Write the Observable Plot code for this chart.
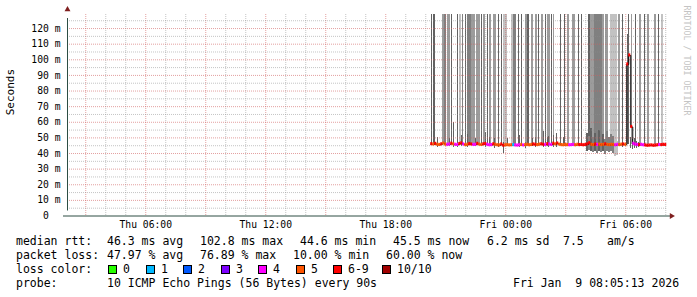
<!DOCTYPE html>
<html><head><meta charset="utf-8">
<script src="https://cdn.jsdelivr.net/npm/d3@7"></script>
<script src="https://cdn.jsdelivr.net/npm/@observablehq/plot@0.6"></script>
<style>
html,body{margin:0;padding:0;background:#fff;}
#wrap{position:relative;width:697px;height:297px;overflow:hidden;font-family:"DejaVu Sans Mono",monospace;background:#fff;}
#wrap svg{position:absolute;left:0;top:0;}
.leg{position:absolute;font-size:11.5px;line-height:14px;white-space:pre;color:#000;}
.box{position:absolute;width:7px;height:7px;border:1px solid #000;}
</style></head><body><div id="wrap"></div>
<script>
// ---- time frame ----
const startTime = "2026-01-08T02:05:13Z";
const endTime = "2026-01-09T08:05:13Z";
const dataStart = "2026-01-08T20:15:00Z";
const sampleMinutes = 6;
const yMax = 129;

// ---- median rtt (ms) every 6 minutes from dataStart ----
const medianMs = [
  46.0,45.8,46.2,45.6,45.5,45.9,46.4,45.7,45.6,45.8,
  46.3,45.9,45.6,45.5,46.1,46.5,45.8,45.4,45.6,46.0,
  45.8,45.5,45.6,46.2,45.7,45.5,45.9,46.1,45.6,45.3,
  45.4,45.9,45.6,45.3,45.2,45.8,45.0,45.3,45.4,45.2,
  45.3,45.4,45.2,45.1,45.3,45.5,45.2,45.4,45.6,45.3,
  45.5,45.8,45.6,45.4,45.7,45.9,45.6,45.5,46.0,45.8,
  45.5,46.3,45.9,46.4,45.7,45.4,45.3,45.5,45.4,45.3,
  45.4,45.5,45.3,45.6,45.4,45.5,45.3,45.5,45.9,46.6,
  45.6,45.4,45.8,45.5,45.7,45.4,45.6,45.9,45.5,45.4,
  45.6,45.5,45.3,45.6,45.4,45.7,45.8,45.6,97.0,102.8,
  57.0,46.2,45.7,45.5,45.4,45.6,45.3,45.2,45.0,45.1,
  45.2,45.0,45.1,45.3,45.5,45.4,45.6,45.5
];
// ---- lost pings out of 10 for each sample ----
const lossCount = [
  6,5,6,5,5,6,5,5,4,4,
  6,5,4,4,6,6,4,5,5,6,
  6,4,4,6,5,5,6,6,4,4,
  4,6,5,5,5,6,6,5,5,5,
  5,1,4,4,4,5,4,5,5,5,
  5,6,6,5,5,6,6,4,6,4,
  4,6,5,6,5,5,5,5,5,4,
  4,4,5,5,6,6,6,6,6,6,
  5,5,6,4,5,5,5,6,5,5,
  5,5,4,4,5,5,6,5,6,6,
  6,4,4,4,6,4,4,6,6,6,
  6,6,6,6,4,6,6,6
];

// ---- smoke reaching the top (minutes after dataStart, duration, density 1..4) ----
const smokeStartMin = [3,9,36,42,51,63,81,87,96,105,111,123,138,153,159,171,177,189,204,213,219,243,249,264,273,285,291,303,315,324,333,345,351,
  354,363,369,390,402,411,426,444,453,474,480,492,516,525,540,549,564,576,594,603,615,627,642,651,672,684,693];
const smokeDurMin = [3,6,6,6,9,3,3,6,3,3,12,12,12,3,6,3,6,9,3,3,12,6,9,3,3,6,6,6,6,3,6,3,3,
  6,3,3,3,3,6,9,3,3,6,12,24,6,9,9,12,6,3,3,3,3,6,3,6,6,3,6];
const smokeShade = [4,4,2,3,2,4,4,1,3,4,3,2,2,4,2,4,2,2,4,4,1,1,3,4,4,2,4,2,2,4,2,4,2,
  2,4,2,4,4,2,2,4,4,4,2,3,2,2,1,1,2,4,4,2,4,2,4,2,2,4,1];

// ---- smoke around the median (minutes, duration, low ms, high ms, density) ----
const lowSmokeMin = [21,57,69,81,93,111,135,165,177,192,204,217,231,267,285,306,315,339,351,
  354,369,378,399,468,474,480,486,492,498,504,510,516,522,528,534,540,546,552,558,576,591,600,606,612,618,624];
const lowSmokeDur = [3,3,3,3,3,3,3,3,3,3,3,3,3,3,3,3,3,3,3,
  3,3,3,3,6,6,6,6,6,6,6,6,6,6,6,6,6,6,6,6,3,3,3,3,3,3,3];
const lowSmokeLo = [44,44.5,44,44,44.5,44,44.5,44,44.5,43,44,40.2,44.5,44,43,44.5,44,44,44.5,
  44,44,44,44.5,41.5,42,41,40.5,41,40,41.5,40.5,41,39.5,41,40.5,41,40,38,39,44,46,43,42.5,43,43.5,44];
const lowSmokeHi = [50,49.5,60,54.7,51.5,52,49.5,53.6,50.4,49.4,52,47.2,49.4,51.5,47.2,49.4,50.4,54.3,50.4,
  50.9,51.5,52.6,50.4,52.5,51,56,50,53,49,55,50,52,49,54,50,52,51,49,48,51.5,116,50,49,49.5,48,47.2];
const lowSmokeShade = [4,4,4,4,4,4,4,4,4,4,4,4,4,4,4,4,4,4,4,
  4,4,4,4,4,3,4,3,4,3,4,3,4,3,3,3,3,3,1,1,4,4,4,4,4,4,4];

// ---- axes ----
const yTickValues = [0,10,20,30,40,50,60,70,80,90,100,110,120];
const yTickLabels = ["0\u00a0\u00a0","10 m","20 m","30 m","40 m","50 m","60 m","70 m","80 m","90 m","100 m","110 m","120 m"];
const xTickTimes = ["2026-01-08T06:00:00Z","2026-01-08T12:00:00Z","2026-01-08T18:00:00Z","2026-01-09T00:00:00Z","2026-01-09T06:00:00Z"];
const xTickLabels = ["Thu 06:00","Thu 12:00","Thu 18:00","Fri 00:00","Fri 06:00"];
const yTitle = "Seconds";
const watermark = "RRDTOOL / TOBI OETIKER";

// ---- legend texts ----
const rttLine = [["median rtt:",16],["46.3 ms avg",107],["102.8 ms max",200],["44.6 ms min",300],["45.5 ms now",393],["6.2 ms sd",487],["7.5",563],["am/s",607]];
const lossLine = [["packet loss:",16],["47.97 % avg",107],["76.89 % max",200],["10.00 % min",293],["60.00 % now",386]];
const lossColorTitle = "loss color:";
const lossLabels = ["0","1","2","3","4","5","6-9","10/10"];
const lossColors = ["#26ff00","#00b8ff","#0059ff","#7e00ff","#ff00ff","#ff5500","#ff0000","#a10000"];
const lossBoxX = [108,146,183,221,258,296,333,382];
const probeLine = [["probe:",16],["10 ICMP Echo Pings (56 Bytes) every 90s",107],["Fri Jan  9 08:05:13 2026",513]];

const shadeColors = ["#c2c2c2","#9c9c9c","#808080","#626262"];

// ---- build ----
const T = s => new Date(s);
const t0 = T(dataStart);
const at = m => new Date(t0.getTime() + m * 60000);
const lossIdx = n => n <= 5 ? n : (n < 10 ? 6 : 7);

const median = medianMs.map((v, i) => ({t: at(i * sampleMinutes), t2: at((i + 1) * sampleMinutes), v, loss: lossCount[i]}));
const smoke = smokeStartMin.map((m, i) => ({t1: at(m), t2: at(m + smokeDurMin[i]), shade: smokeShade[i]}));
const low = lowSmokeMin.map((m, i) => ({t1: at(m), t2: at(m + lowSmokeDur[i]), lo: lowSmokeLo[i], hi: lowSmokeHi[i], shade: lowSmokeShade[i]}));

const hours = d3.utcHour.range(T(startTime), T(endTime));
const minorHours = hours.filter(d => d.getUTCHours() % 3 !== 0);
const majorHours = hours.filter(d => d.getUTCHours() % 3 === 0);
const minorY = d3.range(5, yMax, 10);
const majorY = yTickValues.filter(v => v > 0);
const smokeBase = 45.8;

const chart = Plot.plot({
  width: 697, height: 232,
  marginLeft: 67, marginRight: 30, marginTop: 14, marginBottom: 16.5,
  style: {fontFamily: "'DejaVu Sans Mono', monospace", fontSize: "9.7px", background: "#fff", color: "#000", overflow: "visible"},
  x: {type: "utc", domain: [T(startTime), T(endTime)]},
  y: {domain: [0, yMax]},
  marks: [
    Plot.rect(smoke, {x1: "t1", x2: "t2", y1: smokeBase, y2: yMax, fill: d => shadeColors[d.shade - 1], shapeRendering: "crispEdges"}),
    Plot.rect(low, {x1: "t1", x2: "t2", y1: "lo", y2: "hi", fill: d => shadeColors[d.shade - 1], shapeRendering: "crispEdges"}),
    Plot.ruleX(minorHours, {stroke: "#8c8c8c", strokeOpacity: 0.5, strokeDasharray: "1,1"}),
    Plot.ruleX(majorHours, {stroke: "#d06060", strokeOpacity: 0.6, strokeDasharray: "1,1"}),
    Plot.ruleY(minorY, {stroke: "#8c8c8c", strokeOpacity: 0.5, strokeDasharray: "1,1"}),
    Plot.ruleY(majorY, {stroke: "#d06060", strokeOpacity: 0.6, strokeDasharray: "1,1"}),
    Plot.line(median, {x: "t", y: "v", curve: "step-after", stroke: "#000", strokeWidth: 1}),
    Plot.rect(median, {x1: "t", x2: "t2", y1: d => d.v - 1, y2: d => d.v + 1, fill: d => lossColors[lossIdx(d.loss)]}),
    Plot.ruleX([T(startTime)], {y1: 0, y2: yMax, insetTop: -5, insetBottom: -4, stroke: "#2c4d43"}),
    Plot.ruleY([0], {x1: T(startTime), x2: T(endTime), insetLeft: -4, insetRight: -3, stroke: "#2c4d43"}),
    Plot.dot([T(startTime)], {x: d => d, y: yMax, symbol: "triangle", r: 2.2, dy: -5, fill: "#7f1f1f", stroke: null}),
    Plot.dot([T(endTime)], {x: d => d, y: 0, symbol: "triangle", r: 2.2, dx: 4, rotate: 90, fill: "#7f1f1f", stroke: null}),
    Plot.axisY({ticks: yTickValues, tickFormat: d => yTickLabels[yTickValues.indexOf(d)], tickSize: 0, tickPadding: 7, fontSize: 9.7, fill: "#000"}),
    Plot.axisX({ticks: xTickTimes.map(T), tickFormat: d => xTickLabels[xTickTimes.findIndex(s => +T(s) === +d)], tickSize: 0, tickPadding: 5, fontSize: 9.7, fill: "#000"}),
    Plot.text([yTitle], {frameAnchor: "left", dx: -57, rotate: -90, fontSize: 11, fill: "#000"}),
    Plot.text([watermark], {frameAnchor: "top-right", dx: 19, dy: -9, rotate: 90, textAnchor: "start", lineAnchor: "middle", fontSize: 8.3, fill: "#c4c4c4"})
  ]
});

const wrap = document.getElementById("wrap");
wrap.appendChild(chart);

const lineTops = [233.8, 247.8, 261.8, 276.2];
function addText(txt, x, top) {
  const s = document.createElement("div");
  s.className = "leg";
  s.textContent = txt;
  s.style.left = x + "px";
  s.style.top = top + "px";
  wrap.appendChild(s);
}
rttLine.forEach(([t, x]) => addText(t, x, lineTops[0]));
lossLine.forEach(([t, x]) => addText(t, x, lineTops[1]));
addText(lossColorTitle, 16, lineTops[2]);
lossLabels.forEach((lab, i) => {
  const b = document.createElement("div");
  b.className = "box";
  b.style.left = lossBoxX[i] + "px";
  b.style.top = (lineTops[2] + 3) + "px";
  b.style.background = lossColors[i];
  wrap.appendChild(b);
  addText(lab, lossBoxX[i] + 15, lineTops[2]);
});
probeLine.forEach(([t, x]) => addText(t, x, lineTops[3]));
</script></body></html>
